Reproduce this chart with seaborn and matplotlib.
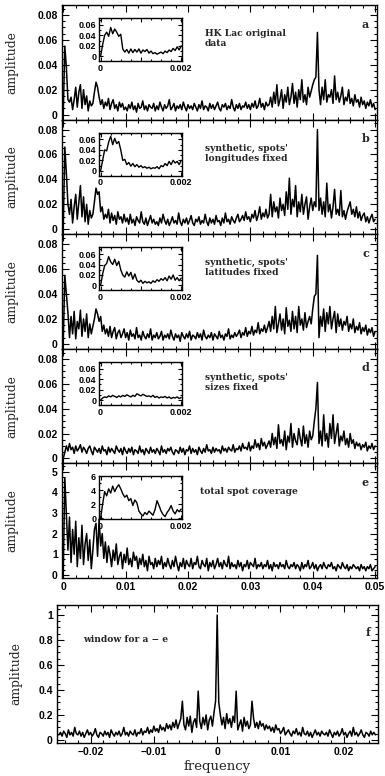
import numpy as np
import pandas as pd
import matplotlib
matplotlib.use("Agg")
import matplotlib.pyplot as plt
import seaborn as sns
from matplotlib.ticker import MultipleLocator, FixedLocator, FuncFormatter

# ---------------- data ----------------
main_start, main_step = 0.0, 0.00025          # panels a-e frequency grid
inset_start, inset_step = 0.0, 0.00005        # insets frequency grid
win_start, win_step = -0.025, 0.00025         # panel f frequency grid

# panel a (units of 0.001)
amp_a = [0, 55, 38, 12,
         10, 14, 4, 12, 22, 6, 18, 24, 5, 20, 8, 15, 3, 11, 7, 9,
         18, 26, 22, 14, 8, 12, 5, 10,
         7, 13, 4, 9, 12, 5, 8, 3, 10, 6, 9, 4,
         6, 3, 8, 5, 10, 4, 7, 2, 9, 5, 6, 11, 4, 7, 3, 8, 6, 5, 9, 3,
         7, 4, 10, 6, 3, 8, 5, 7, 12, 4, 6, 9, 3, 7, 5, 8, 4, 10, 6, 3,
         8, 5, 7, 4, 9, 6, 3, 8, 5, 11, 4, 7, 6, 3, 9, 5, 8, 4, 7, 10,
         5, 3, 8, 6, 9, 4, 7, 5, 12, 6, 3, 8, 5, 9, 4, 7, 6, 10, 5, 8,
         4, 9, 6, 11, 5, 7, 13, 6, 9, 4, 10, 7,
         8, 14, 6, 18, 9, 24, 7, 12, 20, 5, 16, 10, 22, 8, 14, 25, 9, 18, 6, 20,
         12, 28, 10, 16, 8, 22, 14, 19, 24, 28, 30,
         66, 20,
         8, 22, 12, 28, 10, 16, 14, 20, 9, 31, 12, 18, 10, 15, 22, 8, 14, 11, 20, 9,
         13, 7, 16, 10, 12, 6, 14, 8, 11, 5, 10, 7, 12, 6, 9, 4]

# panel b (units of 0.001)
amp_b = [0, 66, 45, 20,
         12, 24, 5, 18, 28, 8, 22, 35, 10, 26, 6, 20, 4, 15, 9, 12,
         22, 33, 28, 30, 14, 18, 8, 12,
         9, 16, 5, 13, 7, 11, 4, 14, 8, 10, 5, 12,
         6, 9, 4, 12, 5, 8, 3, 10, 7, 5, 14, 6, 4, 9, 3, 7, 11, 5, 8, 4,
         6, 3, 9, 5, 12, 7, 4, 8, 3, 6, 10, 5, 7, 4, 13, 6, 3, 8, 5, 9,
         4, 7, 11, 5, 3, 8, 6, 10, 4, 7, 5, 12, 6, 3, 9, 5, 8, 4, 11, 6,
         7, 3, 9, 5, 13, 6, 8, 4, 10, 7, 5, 9, 12, 6, 8, 11, 7, 14, 8, 10,
         6, 12, 9, 15, 7, 11, 18, 8, 13, 10, 16, 9,
         12, 28, 10, 22, 14, 18, 9, 25, 15, 20, 11, 30, 16, 41, 12, 24, 18, 35, 10, 22,
         14, 28, 12, 20, 26, 8, 18, 25, 15, 22, 18,
         80, 15,
         25, 12, 22, 10, 37, 14, 20, 9, 18, 32, 12, 16, 11, 31, 10, 15, 8, 14, 18, 22,
         12, 16, 10, 18, 9, 14, 7, 11, 13, 6, 10, 5, 9, 12, 6, 8]

# panel c (units of 0.001)
amp_c = [0, 55, 40, 25,
         5, 22, 8, 26, 4, 18, 12, 27, 6, 20, 10, 24, 5, 16, 8, 14,
         20, 28, 24, 18, 22, 10, 15, 8,
         12, 6, 14, 5, 10, 13, 4, 9, 11, 5, 8, 12,
         5, 9, 3, 11, 6, 8, 4, 13, 5, 7, 3, 10, 6, 4, 8, 5, 12, 3, 7, 5,
         9, 4, 6, 10, 3, 7, 5, 8, 4, 11, 6, 3, 8, 5, 7, 2, 9, 6, 4, 8,
         5, 10, 3, 7, 6, 4, 9, 5, 8, 3, 11, 6, 4, 7, 5, 9, 3, 8, 6, 4,
         10, 5, 7, 3, 8, 6, 12, 4, 7, 5, 9, 6, 8, 11, 5, 9, 7, 13, 6, 10,
         8, 14, 7, 11, 9, 17, 8, 12, 10, 15, 9, 13,
         18, 10, 22, 12, 30, 9, 16, 24, 11, 20, 8, 29, 14, 19, 10, 26, 12, 22, 9, 30,
         15, 20, 11, 25, 13, 18, 22, 16, 28, 38, 40,
         71, 5,
         22, 14, 28, 10, 25, 16, 30, 12, 20, 26, 9, 24, 14, 20, 11, 18, 15, 22, 10, 16,
         12, 20, 9, 14, 11, 17, 8, 13, 10, 15, 7, 12, 9, 13, 6, 10]

# panel d (units of 0.001)
amp_d = [0, 5, 10, 6,
         12, 7, 9, 4, 10, 6, 8, 11, 5, 9, 7, 4, 8, 10, 6, 3,
         9, 7, 5, 8, 4, 10, 6, 7, 3, 9, 5, 8, 6, 4, 10, 7, 5, 8, 3, 9,
         6, 4, 8, 5, 9, 3, 7, 6, 4, 10, 5, 7, 3, 8, 6, 4, 9, 5, 7, 4,
         8, 6, 3, 10, 5, 7, 4, 8, 6, 9, 5, 3, 7, 6, 4, 9, 5, 8, 3, 7,
         6, 10, 4, 8, 5, 7, 3, 9, 6, 4, 8, 5, 11, 6, 7, 4, 9, 5, 8, 6,
         7, 4, 10, 6, 8, 5, 9, 7, 6, 11, 5, 8, 7, 10, 6, 12, 8, 9, 7, 13,
         6, 10, 8, 15, 9, 12, 7, 16, 10, 13, 8, 11,
         14, 9, 20, 11, 17, 8, 27, 12, 15, 10, 22, 7, 18, 13, 28, 9, 20, 14, 11, 24,
         16, 10, 26, 12, 19, 9, 22, 15, 18, 30, 40,
         61, 12,
         22, 10, 35, 14, 20, 9, 28, 16, 35, 12, 20, 28, 10, 18, 14, 22, 11, 16, 9, 20,
         12, 15, 8, 13, 10, 12, 7, 11, 9, 13, 6, 10, 8, 12, 7, 10]

# panel e (units of 0.1)
amp_e = [0, 47, 30, 12,
         28, 6, 22, 10, 26, 4, 18, 8, 24, 5, 15, 20, 7, 17, 3, 12,
         22, 25, 9, 27, 14, 20, 8, 16,
         6, 14, 10, 4, 12, 7, 15, 5, 9, 11, 3, 10, 6, 13, 5, 8, 4, 11, 7, 9,
         3, 8, 5, 10, 4, 7, 2, 9, 5, 6, 3, 8, 4, 7, 5, 9, 3, 6, 4, 8,
         5, 3, 7, 4, 9, 5, 2, 6, 4, 8, 3, 7, 5, 4, 8, 3, 6, 5, 9, 4,
         3, 7, 5, 4, 8, 2, 6, 4, 7, 3, 5, 8, 4, 6, 3, 7, 5, 4, 9, 3,
         6, 4, 5, 3, 7, 4, 6, 2, 5, 4, 7, 3, 6, 5, 4, 8, 3, 5, 4, 6,
         3, 5, 4, 7, 3, 5, 2, 6, 4, 5, 3, 6, 4, 5, 3, 7, 4, 3, 5, 4,
         6, 3, 5, 4, 2, 6, 3, 5, 4, 7, 3, 4, 6, 3, 5, 2, 4, 5, 3, 6,
         4, 3, 5, 4, 6, 3, 4, 2, 5, 4, 3, 6, 4, 3, 5, 2, 4, 3, 5, 4,
         3, 4, 2, 5, 3, 4, 2, 4, 3, 5, 2, 3, 4]

# insets (a-d in 0.001, e in 0.1), frequency 0 .. 0.002
ins_a = [0, 22, 40, 46, 38, 55, 43, 52, 46, 38, 42, 14, 8, 13, 6, 14, 7, 13, 8, 14,
         6, 12, 9, 13, 6, 10, 5, 7, 4, 6, 8, 5, 10, 7, 12, 9, 15, 11, 18, 12, 20]
ins_b = [0, 20, 40, 38, 55, 66, 50, 62, 52, 56, 40, 20, 22, 12, 16, 9, 14, 8, 12, 7,
         10, 6, 8, 5, 7, 4, 6, 5, 8, 4, 10, 8, 14, 10, 18, 12, 20, 15, 18, 12, 20]
ins_c = [0, 22, 38, 42, 55, 45, 40, 50, 38, 46, 30, 20, 16, 26, 18, 25, 12, 22, 10, 6,
         10, 4, 8, 5, 7, 4, 9, 6, 11, 8, 13, 10, 15, 9, 18, 12, 20, 10, 15, 9, 14]
ins_d = [0, 4, 6, 5, 8, 6, 9, 7, 5, 8, 6, 9, 7, 10, 8, 6, 9, 7, 12, 10,
         8, 11, 9, 7, 8, 6, 9, 5, 7, 4, 6, 5, 7, 4, 6, 3, 5, 4, 6, 3, 5]
ins_e = [0, 20, 38, 32, 42, 36, 46, 38, 44, 48, 42, 35, 30, 33, 25, 28, 18, 26, 22, 10,
         6, 3, 8, 5, 10, 7, 4, 12, 25, 18, 10, 5, 2, 8, 12, 18, 10, 6, 12, 9, 13]

# panel f window (units of 0.01), frequency -0.025 .. 0.025
amp_f = [4, 6, 3, 7, 5, 2, 8, 4, 6, 3, 10, 5, 4, 7, 3, 6, 2, 5, 8, 4,
         6, 3, 5, 9, 4, 2, 6, 5, 3, 7, 4, 6, 2, 8, 5, 3, 6, 4, 7, 3,
         5, 10, 4, 6, 3, 7, 5, 4, 8, 3, 6, 5, 9, 4, 7, 6, 10, 5, 8, 6,
         11, 7, 9, 6, 12, 8, 10, 7, 13, 9, 12, 8,
         14, 10, 16, 9, 13, 17, 31, 12, 8, 18, 11, 19, 6, 14, 17, 10, 39, 15, 9, 18,
         12, 20, 8, 16, 19, 11, 22, 31,
         100,
         30, 20, 12, 18, 9, 21, 13, 17, 10, 19, 14, 39, 8, 12, 16, 7, 18, 11, 15, 9,
         12, 31, 17, 10, 14, 9, 15, 11,
         13, 8, 12, 9, 11, 7, 10, 6, 12, 8, 9, 5, 7, 10, 4, 6, 8, 5, 3, 7,
         5, 9, 4, 6, 3, 10, 5, 4, 7, 3, 6, 2, 5, 8, 4, 6, 3, 7, 5, 4,
         6, 3, 8, 5, 2, 6, 4, 7, 3, 5, 9, 4, 6, 2, 5, 7, 3, 10, 4, 6,
         3, 5, 8, 4, 2, 6, 5, 3, 7, 4, 6, 4]

panel_letters = ["a", "b", "c", "d", "e"]
panel_notes = ["HK Lac original\ndata", "synthetic, spots'\nlongitudes fixed",
               "synthetic, spots'\nlatitudes fixed", "synthetic, spots'\nsizes fixed",
               "total spot coverage"]
main_series = [amp_a, amp_b, amp_c, amp_d, amp_e]
inset_series = [ins_a, ins_b, ins_c, ins_d, ins_e]
scales = [0.001, 0.001, 0.001, 0.001, 0.1]

# ---------------- styling ----------------
sns.set_style("ticks")
plt.rcParams["font.family"] = ["Liberation Sans", "DejaVu Sans"]
plt.rcParams["font.weight"] = "bold"
plt.rcParams["axes.linewidth"] = 1.0

W, H = 385, 776
fig = plt.figure(figsize=(W / 100, H / 100), dpi=100)


def fmt(v, pos):
    if abs(v) < 1e-12:
        return "0"
    return f"{v:g}".replace("-", "\u2212")


def style_ticks(ax, size, major_len, minor_len):
    ax.tick_params(which="both", direction="in", top=True, right=True,
                   colors="black", width=0.8, labelsize=size, pad=3)
    ax.tick_params(which="major", length=major_len)
    ax.tick_params(which="minor", length=minor_len)
    for s in ax.spines.values():
        s.set_color("black")
        s.set_linewidth(1.0)


def px_axes(left, top, width, height):
    return fig.add_axes([left / W, 1 - (top + height) / H, width / W, height / H])


serif = ["DejaVu Serif"]
panel_top0, panel_h = 5, 114.6
pl, pw = 62, 315

for k in range(5):
    top = panel_top0 + k * panel_h
    ax = px_axes(pl, top, pw, panel_h)
    vals = np.array(main_series[k]) * scales[k]
    freq = main_start + main_step * np.arange(len(vals))
    df = pd.DataFrame({"frequency": freq, "amplitude": vals})
    sns.lineplot(data=df, x="frequency", y="amplitude", ax=ax, color="black",
                 lw=1.1, estimator=None)
    ax.set_xlim(-0.0002, 0.0503)
    if k < 4:
        ax.set_ylim(-0.004, 0.088)
        ax.yaxis.set_major_locator(MultipleLocator(0.02))
        ax.yaxis.set_minor_locator(MultipleLocator(0.005))
    else:
        ax.set_ylim(-0.15, 5.4)
        ax.yaxis.set_major_locator(MultipleLocator(1))
        ax.yaxis.set_minor_locator(MultipleLocator(0.25))
    ax.xaxis.set_major_locator(MultipleLocator(0.01))
    ax.xaxis.set_minor_locator(MultipleLocator(0.002))
    ax.yaxis.set_major_formatter(FuncFormatter(fmt))
    ax.xaxis.set_major_formatter(FuncFormatter(fmt))
    style_ticks(ax, 7.5, 5, 2.5)
    if k < 4:
        ax.tick_params(axis="x", labelbottom=False)
    ax.set_xlabel("")
    ax.set_ylabel("amplitude", family=serif, fontweight="normal", fontsize=8.8)
    ax.yaxis.set_label_coords(-0.14, 0.5)
    ax.text(0.975, 1 - 19 / panel_h, panel_letters[k], transform=ax.transAxes,
            ha="right", va="center", family=serif, fontweight="bold", fontsize=8)
    tx = (205 - pl) / pw if k < 4 else (200 - pl) / pw
    ax.text(tx, 1 - 24 / panel_h, panel_notes[k], transform=ax.transAxes,
            ha="left", va="top", family=serif, fontweight="bold", fontsize=6.6,
            linespacing=1.15)

    # inset
    ia = px_axes(99, top + 13, 83, 43)
    ivals = np.array(inset_series[k]) * scales[k]
    ifreq = inset_start + inset_step * np.arange(len(ivals))
    idf = pd.DataFrame({"frequency": ifreq, "amplitude": ivals})
    sns.lineplot(data=idf, x="frequency", y="amplitude", ax=ia, color="black",
                 lw=1.0, estimator=None)
    ia.set_xlim(-0.00004, 0.00202)
    if k < 4:
        ia.set_ylim(-0.009, 0.073)
        ia.yaxis.set_major_locator(MultipleLocator(0.02))
        ia.yaxis.set_minor_locator(MultipleLocator(0.01))
    else:
        ia.set_ylim(-0.2, 6.0)
        ia.yaxis.set_major_locator(MultipleLocator(2))
        ia.yaxis.set_minor_locator(MultipleLocator(1))
    ia.xaxis.set_major_locator(FixedLocator([0, 0.001, 0.002]))
    ia.xaxis.set_minor_locator(MultipleLocator(0.00025))
    ia.xaxis.set_major_formatter(FuncFormatter(lambda v, p: "" if abs(v - 0.001) < 1e-9 else fmt(v, p)))
    ia.yaxis.set_major_formatter(FuncFormatter(fmt))
    style_ticks(ia, 6.5, 3, 1.5)
    ia.tick_params(pad=2)
    ia.set_xlabel("")
    ia.set_ylabel("")

# panel f
axf = px_axes(57, 605, 321, 138)
fvals = np.array(amp_f) * 0.01
ffreq = win_start + win_step * np.arange(len(fvals))
dff = pd.DataFrame({"frequency": ffreq, "amplitude": fvals})
sns.lineplot(data=dff, x="frequency", y="amplitude", ax=axf, color="black",
             lw=1.1, estimator=None)
axf.set_xlim(-0.0253, 0.0254)
axf.set_ylim(-0.025, 1.08)
axf.xaxis.set_major_locator(MultipleLocator(0.01))
axf.xaxis.set_minor_locator(MultipleLocator(0.002))
axf.yaxis.set_major_locator(MultipleLocator(0.2))
axf.yaxis.set_minor_locator(MultipleLocator(0.05))
axf.xaxis.set_major_formatter(FuncFormatter(fmt))
axf.yaxis.set_major_formatter(FuncFormatter(fmt))
style_ticks(axf, 7.5, 5, 2.5)
axf.set_ylabel("amplitude", family=serif, fontweight="normal", fontsize=8.8)
axf.yaxis.set_label_coords((22 - 57) / 321, 0.5)
axf.set_xlabel("frequency", family=serif, fontweight="normal", fontsize=9.5, labelpad=2)
axf.text(0.975, 1 - 27 / 138, "f", transform=axf.transAxes, ha="right", va="center",
         family=serif, fontweight="bold", fontsize=8)
axf.text((83 - 57) / 321, 1 - 35 / 138, "window for a \u2212 e", transform=axf.transAxes,
         ha="left", va="center", family=serif, fontweight="bold", fontsize=6.6)

fig.savefig("out.png", dpi=100)
